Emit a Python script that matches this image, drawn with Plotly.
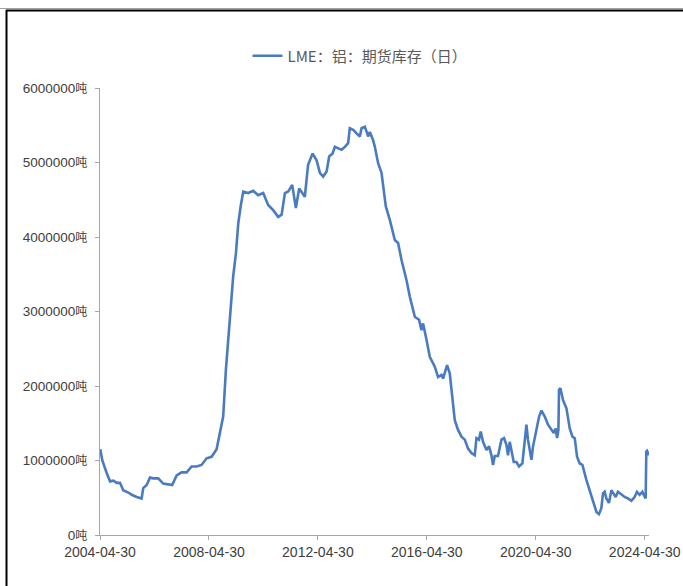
import plotly.graph_objects as go

series_name = "LME：铝：期货库存（日）"

dates = [
    "2004-05-04", "2004-05-31", "2004-07-30", "2004-09-12", "2004-10-26", "2004-12-10",
    "2005-01-23", "2005-03-08", "2005-05-15", "2005-06-29", "2005-09-04", "2005-11-09",
    "2005-12-01", "2006-01-16", "2006-03-01", "2006-04-14", "2006-06-20", "2006-08-26",
    "2006-11-01", "2006-12-24", "2007-02-22", "2007-04-29", "2007-07-06", "2007-09-11",
    "2007-11-16", "2008-01-22", "2008-03-30", "2008-06-05", "2008-08-11", "2008-09-24",
    "2008-11-07", "2008-12-13", "2009-01-27", "2009-02-28", "2009-03-21", "2009-04-27",
    "2009-05-28", "2009-06-29", "2009-08-03", "2009-10-09", "2009-12-15", "2010-02-20",
    "2010-04-28", "2010-07-03", "2010-09-09", "2010-11-15", "2010-12-31", "2011-02-13",
    "2011-03-29", "2011-05-22", "2011-07-10", "2011-08-23", "2011-11-07", "2011-12-21",
    "2012-02-19", "2012-04-13", "2012-05-27", "2012-07-10", "2012-08-25", "2012-09-29",
    "2012-11-13", "2012-12-14", "2013-01-27", "2013-03-14", "2013-04-27", "2013-06-10",
    "2013-07-02", "2013-08-16", "2013-10-01", "2013-11-14", "2013-12-07", "2014-01-20",
    "2014-02-20", "2014-03-05", "2014-03-28", "2014-05-11", "2014-06-03", "2014-07-17",
    "2014-09-01", "2014-10-28", "2014-12-21", "2015-02-26", "2015-04-11", "2015-05-27",
    "2015-08-02", "2015-09-15", "2015-11-21", "2016-01-17", "2016-02-18", "2016-03-11",
    "2016-04-26", "2016-06-09", "2016-08-15", "2016-09-28", "2016-11-13", "2016-12-04",
    "2017-01-27", "2017-03-04", "2017-03-27", "2017-04-17", "2017-05-10", "2017-06-23",
    "2017-08-08", "2017-09-21", "2017-11-04", "2017-12-20", "2018-02-02", "2018-02-25",
    "2018-03-31", "2018-04-23", "2018-05-24", "2018-07-09", "2018-08-13", "2018-09-14",
    "2018-10-05", "2018-10-28", "2018-12-11", "2019-01-26", "2019-03-02", "2019-04-03",
    "2019-04-24", "2019-05-17", "2019-06-09", "2019-07-10", "2019-08-15", "2019-09-19",
    "2019-11-03", "2019-12-04", "2019-12-27", "2020-01-17", "2020-02-09", "2020-03-03",
    "2020-03-25", "2020-05-10", "2020-06-14", "2020-07-16", "2020-08-29", "2020-10-12",
    "2020-11-27", "2020-12-28", "2021-01-23", "2021-02-10", "2021-02-28", "2021-03-08",
    "2021-03-27", "2021-05-01", "2021-06-16", "2021-07-30", "2021-09-04", "2021-10-05",
    "2021-11-05", "2021-12-11", "2022-01-16", "2022-02-16", "2022-03-10", "2022-04-23",
    "2022-06-07", "2022-07-23", "2022-08-26", "2022-09-27", "2022-10-19", "2022-11-10",
    "2022-12-03", "2023-01-07", "2023-02-09", "2023-03-02", "2023-04-07", "2023-05-08",
    "2023-06-22", "2023-08-05", "2023-09-19", "2023-11-03", "2023-12-17", "2024-01-17",
    "2024-02-22", "2024-03-30", "2024-04-16", "2024-05-13", "2024-05-22", "2024-05-31",
    "2024-06-27",
]

stock_mt = [  # million tonnes
    1.15, 1.00, 0.83, 0.72, 0.73, 0.70,
    0.70, 0.60, 0.57, 0.54, 0.51, 0.49,
    0.63, 0.67, 0.77, 0.76, 0.76, 0.69,
    0.68, 0.67, 0.80, 0.84, 0.84, 0.92,
    0.92, 0.94, 1.03, 1.05, 1.15, 1.37,
    1.59, 2.21, 2.80, 3.20, 3.47, 3.78,
    4.18, 4.41, 4.61, 4.59, 4.62, 4.56,
    4.59, 4.43, 4.36, 4.27, 4.30, 4.59,
    4.61, 4.70, 4.39, 4.65, 4.54, 4.97,
    5.12, 5.03, 4.86, 4.81, 4.88, 5.08,
    5.12, 5.21, 5.19, 5.17, 5.21, 5.26,
    5.46, 5.44, 5.39, 5.35, 5.46, 5.48,
    5.39, 5.35, 5.41, 5.30, 5.21, 4.99,
    4.86, 4.41, 4.23, 3.96, 3.92, 3.69,
    3.42, 3.20, 2.93, 2.89, 2.75, 2.84,
    2.62, 2.39, 2.26, 2.12, 2.15, 2.10,
    2.28, 2.17, 1.95, 1.77, 1.54, 1.41,
    1.32, 1.28, 1.16, 1.10, 1.07, 1.30,
    1.28, 1.39, 1.25, 1.14, 1.19, 1.07,
    0.94, 1.06, 1.06, 1.28, 1.30, 1.21,
    1.07, 1.25, 1.12, 0.98, 0.98, 0.92,
    0.96, 1.32, 1.48, 1.28, 1.14, 1.01,
    1.19, 1.41, 1.59, 1.67, 1.59, 1.48,
    1.41, 1.37, 1.43, 1.30, 1.41, 1.95,
    1.97, 1.81, 1.70, 1.43, 1.32, 1.30,
    1.05, 0.96, 0.94, 0.80, 0.74, 0.60,
    0.45, 0.31, 0.28, 0.36, 0.56, 0.58,
    0.49, 0.43, 0.60, 0.56, 0.51, 0.58,
    0.54, 0.51, 0.49, 0.46, 0.51, 0.58,
    0.54, 0.58, 0.54, 0.49, 1.12, 1.13,
    1.07,
]
stock = [v * 1_000_000 for v in stock_mt]

x_ticks = ["2004-04-30", "2008-04-30", "2012-04-30", "2016-04-30", "2020-04-30", "2024-04-30"]
y_ticks = [0, 1000000, 2000000, 3000000, 4000000, 5000000, 6000000]
y_ticktext = [f"{v}<span style='font-size:12px'>吨</span>" for v in y_ticks]

W, H = 683, 586
ML, MR, MT, MB = 100, 34, 88, 51
PW, PH = W - ML - MR, H - MT - MB

def px_x(p):
    return (p - ML) / PW

def px_y(p):
    return (H - MB - p) / PH

fig = go.Figure()
fig.add_trace(go.Scatter(
    x=dates, y=stock, mode="lines", name=series_name,
    line=dict(color="#4A7BC0", width=2.6),
))

grey_txt = "#404040"
fig.update_layout(
    width=W, height=H,
    margin=dict(l=ML, r=MR, t=MT, b=MB, pad=0, autoexpand=False),
    paper_bgcolor="white", plot_bgcolor="white",
    font=dict(family="Liberation Sans, Arial, Noto Sans CJK SC", size=14, color=grey_txt),
    showlegend=True,
    legend=dict(
        orientation="h", x=px_x(360), xanchor="center", y=px_y(56), yanchor="middle",
        font=dict(family="Noto Sans CJK SC", size=15, color="#595959"),
        bgcolor="rgba(0,0,0,0)", itemwidth=30,
    ),
    xaxis=dict(
        type="date", range=["2004-04-30", "2024-06-27"],
        tickvals=x_ticks, ticktext=x_ticks,
        showgrid=False, zeroline=False, automargin=False,
        showline=True, linecolor="#A6A6A6", linewidth=1,
        ticks="outside", ticklen=4, tickcolor="#A6A6A6",
        tickfont=dict(size=14, color=grey_txt),
    ),
    yaxis=dict(
        range=[0, 6000000], tickvals=y_ticks, ticktext=y_ticktext,
        showgrid=False, zeroline=False, automargin=False,
        showline=True, linecolor="#A6A6A6", linewidth=1,
        ticks="outside", ticklen=4, tickcolor="#A6A6A6",
        tickfont=dict(size=13.5, color=grey_txt),
        ticklabelstandoff=5,
    ),
)

# frame lines of the surrounding cell
fig.add_shape(type="line", xref="paper", yref="paper",
              x0=px_x(0), x1=px_x(W), y0=px_y(8.5), y1=px_y(8.5),
              line=dict(color="#A0A0A0", width=1))
fig.add_shape(type="line", xref="paper", yref="paper",
              x0=px_x(6), x1=px_x(W), y0=px_y(10.5), y1=px_y(10.5),
              line=dict(color="#000000", width=2))
fig.add_shape(type="line", xref="paper", yref="paper",
              x0=px_x(6.5), x1=px_x(6.5), y0=px_y(10), y1=px_y(H),
              line=dict(color="#000000", width=2))

fig.write_html("out.html")
